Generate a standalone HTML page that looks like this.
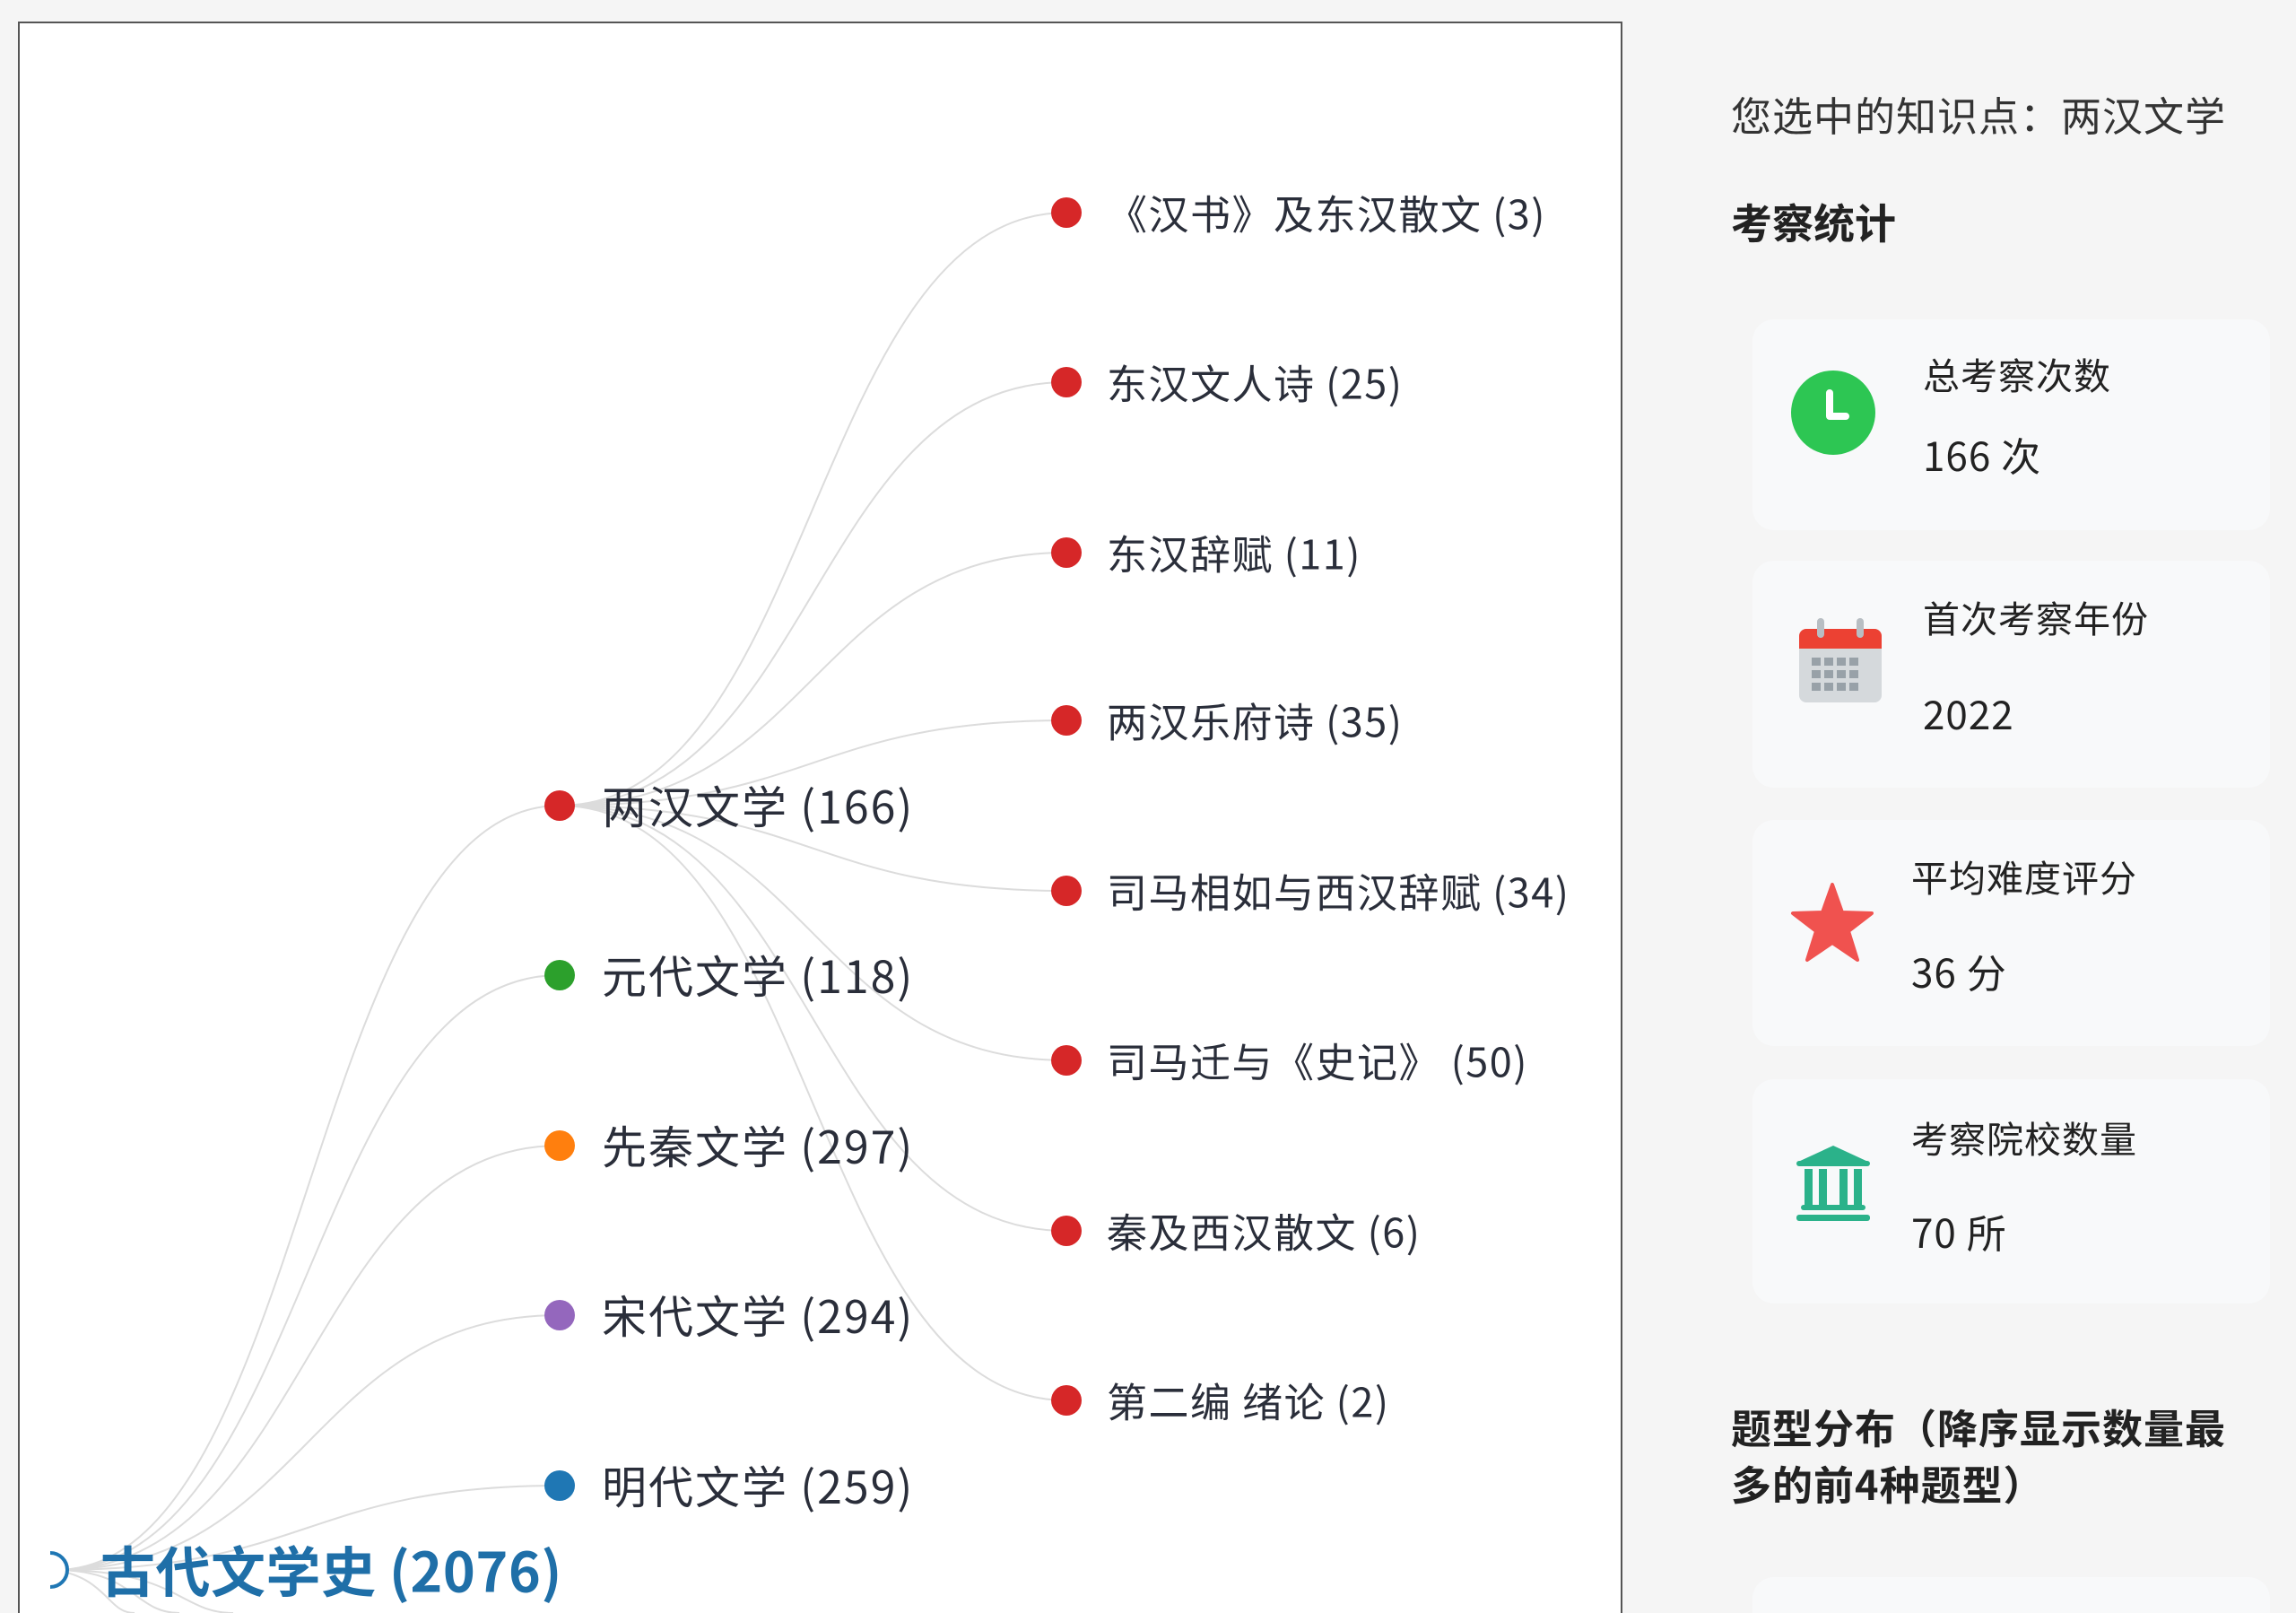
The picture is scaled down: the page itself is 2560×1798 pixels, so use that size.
<!DOCTYPE html>
<html><head><meta charset="utf-8"><style>
html,body{margin:0;padding:0;width:2560px;height:1798px;overflow:hidden}
body{background:#f5f5f5;position:relative;font-family:"Noto Sans CJK SC","Liberation Sans",sans-serif;color:#222}
#tree{position:absolute;left:20px;top:24px;width:1789px;height:1774px;background:#fff;border:2px solid #555;border-bottom:none;box-sizing:border-box}
svg{position:absolute;left:0;top:0;overflow:hidden}
.t{position:absolute;white-space:nowrap}
.card{position:absolute;left:1954px;width:577px;background:#f8f9fa;border-radius:24px;overflow:hidden}
.ct{position:absolute;font-size:41px;color:#222;white-space:nowrap;line-height:1.2;letter-spacing:1px}
</style></head><body>
<div id="tree"></div>
<svg width="2560" height="1798" viewBox="0 0 2560 1798">
<g fill="none" stroke="#dcdcdc" stroke-width="2">
<path d="M62,1750 C343,1750 343,898 624,898"/>
<path d="M62,1750 C343,1750 343,1087 624,1087"/>
<path d="M62,1750 C343,1750 343,1277 624,1277"/>
<path d="M62,1750 C343,1750 343,1466 624,1466"/>
<path d="M62,1750 C343,1750 343,1656 624,1656"/>
<path d="M62,1750 C200,1750 200,1798 260,1798"/>
<path d="M62,1750 C150,1750 150,1798 200,1798"/>
<path d="M62,1750 C120,1760 120,1798 150,1798"/>
<path d="M624,898 C906,898 906,237 1189,237"/>
<path d="M624,898 C906,898 906,426 1189,426"/>
<path d="M624,898 C906,898 906,616 1189,616"/>
<path d="M624,898 C906,898 906,803 1189,803"/>
<path d="M624,898 C906,898 906,993 1189,993"/>
<path d="M624,898 C906,898 906,1182 1189,1182"/>
<path d="M624,898 C906,898 906,1372 1189,1372"/>
<path d="M624,898 C906,898 906,1561 1189,1561"/>
</g>
<circle cx="56" cy="1750" r="19" fill="#fff" stroke="#1f77b4" stroke-width="4"/>
<rect x="22" y="1725" width="34" height="50" fill="#fff"/>
<circle cx="624" cy="898" r="17" fill="#d62728"/>
<circle cx="624" cy="1087" r="17" fill="#2ca02c"/>
<circle cx="624" cy="1277" r="17" fill="#ff7f0e"/>
<circle cx="624" cy="1466" r="17" fill="#9467bd"/>
<circle cx="624" cy="1656" r="17" fill="#1f77b4"/>
<g fill="#d62728">
<circle cx="1189" cy="237" r="17"/><circle cx="1189" cy="426" r="17"/><circle cx="1189" cy="616" r="17"/><circle cx="1189" cy="803" r="17"/>
<circle cx="1189" cy="993" r="17"/><circle cx="1189" cy="1182" r="17"/><circle cx="1189" cy="1372" r="17"/><circle cx="1189" cy="1561" r="17"/>
</g>
<g font-family="Noto Sans CJK SC, Liberation Sans, sans-serif" dominant-baseline="central">
<text x="112" y="1748" font-size="61" fill="#1f6fa8" font-weight="bold" letter-spacing="0.5">古代文学史 (2076)</text>
<g font-size="50" fill="#2a2e3a" letter-spacing="2">
<text x="671" y="897">两汉文学 (166)</text>
<text x="671" y="1086">元代文学 (118)</text>
<text x="671" y="1276">先秦文学 (297)</text>
<text x="671" y="1465">宋代文学 (294)</text>
<text x="671" y="1655">明代文学 (259)</text>
</g>
<g font-size="45" fill="#2a2e3a" letter-spacing="1.5">
<text x="1234" y="236">《汉书》及东汉散文 (3)</text>
<text x="1234" y="425">东汉文人诗 (25)</text>
<text x="1234" y="615">东汉辞赋 (11)</text>
<text x="1234" y="802">两汉乐府诗 (35)</text>
<text x="1234" y="992">司马相如与西汉辞赋 (34)</text>
<text x="1234" y="1181">司马迁与《史记》 (50)</text>
<text x="1234" y="1371">秦及西汉散文 (6)</text>
<text x="1234" y="1560">第二编 绪论 (2)</text>
</g>
</g>
</svg>
<div class="t" style="left:1930px;top:100px;font-size:45px;color:#333;line-height:1.2;letter-spacing:1px">您选中的知识点：两汉文学</div>
<div class="t" style="left:1930px;top:220px;font-size:46px;font-weight:bold;color:#222;line-height:1.2">考察统计</div>

<div class="card" style="top:356px;height:235px">
<svg width="120" height="120" style="left:40px;top:44px"><circle cx="50" cy="60" r="47" fill="#2dc653"/><path d="M46 38 V64 H64" stroke="#fff" stroke-width="8" fill="none" stroke-linecap="round" stroke-linejoin="round"/></svg>
<div class="ct" style="left:190px;top:36px">总考察次数</div>
<div class="ct" style="left:190px;top:124px;font-size:44px">166 次</div>
</div>
<div class="card" style="top:625px;height:253px">
<svg width="120" height="120" style="left:50px;top:62px"><rect x="2" y="14" width="92" height="82" rx="8" fill="#d5d9dc"/><path d="M2 22 a8 8 0 0 1 8 -8 h76 a8 8 0 0 1 8 8 v14 h-92z" fill="#ec4133"/><rect x="22" y="2" width="8" height="22" rx="4" fill="#b8bec3"/><rect x="66" y="2" width="8" height="22" rx="4" fill="#b8bec3"/>
<g fill="#98a1a8"><rect x="16" y="46" width="10" height="9"/><rect x="30" y="46" width="10" height="9"/><rect x="44" y="46" width="10" height="9"/><rect x="58" y="46" width="10" height="9"/><rect x="16" y="60" width="10" height="9"/><rect x="30" y="60" width="10" height="9"/><rect x="44" y="60" width="10" height="9"/><rect x="58" y="60" width="10" height="9"/><rect x="16" y="74" width="10" height="9"/><rect x="30" y="74" width="10" height="9"/><rect x="44" y="74" width="10" height="9"/><rect x="58" y="74" width="10" height="9"/></g></svg>
<div class="ct" style="left:190px;top:38px">首次考察年份</div>
<div class="ct" style="left:190px;top:143px;font-size:44px">2022</div>
</div>
<div class="card" style="top:914px;height:252px">
<svg width="120" height="120" style="left:40px;top:70px"><path d="M49 2 L60 33 L93 34 L67 54 L77 86 L49 67 L21 86 L31 54 L5 34 L38 33Z" fill="#f0524f" stroke="#f0524f" stroke-width="4" stroke-linejoin="round"/></svg>
<div class="ct" style="left:177px;top:38px">平均难度评分</div>
<div class="ct" style="left:177px;top:142px;font-size:44px">36 分</div>
</div>
<div class="card" style="top:1203px;height:250px">
<svg width="120" height="120" style="left:40px;top:70px"><g fill="#2bb28a"><path d="M50 4 L89 22 H11Z"/><rect x="9" y="21" width="82" height="6" rx="3"/><rect x="18" y="30" width="9" height="40"/><rect x="34" y="30" width="9" height="40"/><rect x="57" y="30" width="9" height="40"/><rect x="73" y="30" width="9" height="40"/><rect x="14" y="70" width="72" height="6" rx="3"/><rect x="9" y="81" width="82" height="7" rx="3"/></g></svg>
<div class="ct" style="left:177px;top:40px">考察院校数量</div>
<div class="ct" style="left:177px;top:143px;font-size:44px">70 所</div>
</div>
<div class="t" style="left:1930px;top:1558px;width:590px;white-space:normal;font-size:45px;font-weight:bold;line-height:63px;color:#222;letter-spacing:1px">题型分布（降序显示数量最多的前4种题型）</div>
<div class="card" style="top:1758px;height:40px;border-radius:24px 24px 0 0"></div>
</body></html>
